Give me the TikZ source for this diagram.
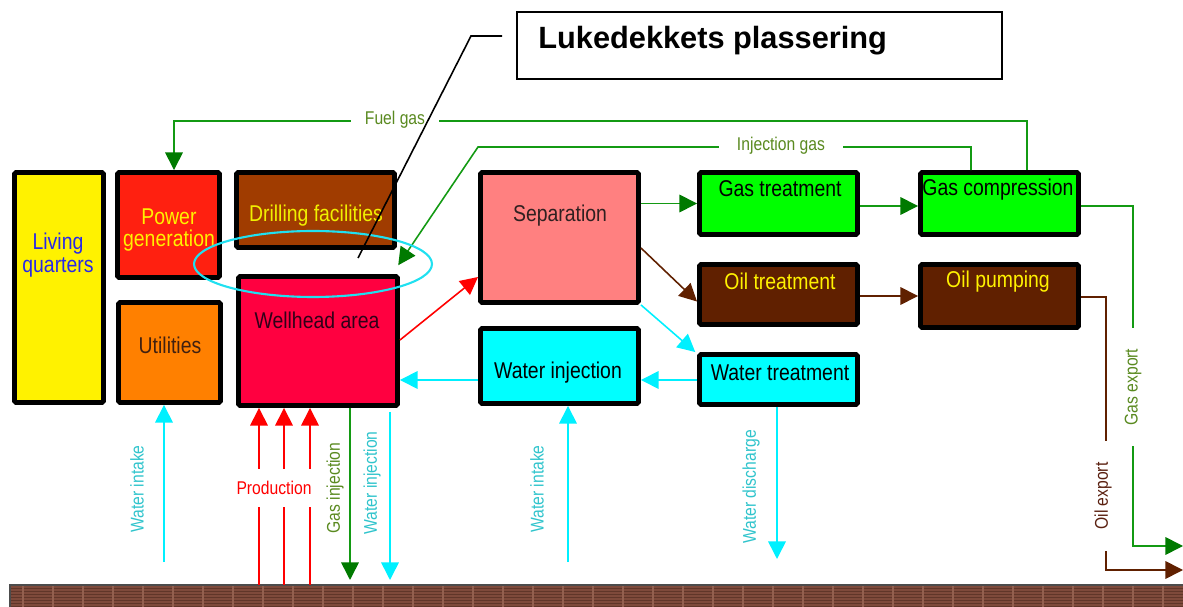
\documentclass[tikz,border=0pt]{standalone}
\usepackage{fontspec}
\setmainfont{Liberation Sans}[FakeStretch=0.85]
\newfontfamily\calloutfont{Liberation Sans}
\usetikzlibrary{arrows.meta,calc,shapes.geometric}
\definecolor{gline}{HTML}{139A13}
\definecolor{ghead}{HTML}{007A00}
\definecolor{cyanl}{HTML}{00F0FF}
\definecolor{brownl}{HTML}{602000}
\definecolor{groundc}{HTML}{7E4A3B}
\definecolor{groundd}{HTML}{603629}
\definecolor{groundl}{HTML}{93604F}
\definecolor{lblgreen}{HTML}{5A8A20}
\definecolor{lblcyan}{HTML}{30C4CC}
\definecolor{lblbrown}{HTML}{5A2010}
\definecolor{fpower}{HTML}{FF2010}
\definecolor{fdrill}{HTML}{A03C00}
\definecolor{futil}{HTML}{FF8000}
\definecolor{fwell}{HTML}{FF0040}
\definecolor{fsep}{HTML}{FF8080}
\definecolor{fgas}{HTML}{00FF00}
\definecolor{foil}{HTML}{602000}
\definecolor{fwater}{HTML}{00FFFF}
\definecolor{tliving}{HTML}{2828E8}
\definecolor{tdrill}{HTML}{F0F000}
\definecolor{tutil}{HTML}{402010}
\definecolor{twell}{HTML}{300018}
\definecolor{tsep}{HTML}{302020}
\definecolor{ellc}{HTML}{20E0F0}
\tikzset{
  x={(0.02cm,0)}, y={(0,-0.02cm)},
  pbox/.style={draw=black, line width=2.7pt, rounded corners=1pt, inner sep=0pt},
  btxt/.style={font=\fontsize{13}{15}\selectfont, inner sep=0pt, align=center},
  ltxt/.style={font=\fontsize{10.5}{12}\selectfont, inner sep=0pt},
  flow/.style={line width=0.9pt, -{Triangle[length=10pt,width=10pt]}},
  gflow/.style={line width=0.9pt, gline, -{Triangle[length=10pt,width=10pt,color=ghead]}},
}
\newcommand{\pbx}[6]{\node[pbox, fill=#6, minimum width={(#4-#2-4.8)*0.02cm}, minimum height={(#5-#3-4.8)*0.02cm}] (#1) at ({(#2+#4)/2},{(#3+#5)/2}) {};}
\begin{document}
\begin{tikzpicture}
\useasboundingbox (0,0) rectangle (1183,607);
% ground
\fill[groundc] (10,585) rectangle (1183,607);
\foreach \yy in {588,591,...,606} {\draw[groundd, line width=0.5pt] (10,\yy) -- (1183,\yy);}
\foreach \xx in {23,53,...,1183} {\draw[groundl, line width=0.6pt] (\xx,585) -- (\xx,607);}
\draw[black!70, line width=0.8pt] (10,607) -- (10,585) -- (1183,585);
% boxes
\pbx{living}{12}{170}{106}{405}{yellow}
\pbx{power}{115}{170}{222}{280}{fpower}
\pbx{drilling}{234}{170}{397}{250}{fdrill}
\pbx{utilities}{116}{300}{223}{405}{futil}
\pbx{wellhead}{236}{274}{400}{408}{fwell}
\pbx{separation}{478}{170}{641}{305}{fsep}
\pbx{gastreat}{697}{170}{860}{237}{fgas}
\pbx{oiltreat}{697}{262}{860}{327}{foil}
\pbx{waterinj}{478}{326}{641}{406}{fwater}
\pbx{watertreat}{697}{352}{860}{407}{fwater}
\pbx{gascomp}{918}{170}{1081}{237}{fgas}
\pbx{oilpump}{918}{262}{1081}{330}{foil}
% box texts
\node[btxt, text=tliving] (t-living) at (58,255) {Living\\[-2pt]quarters};
\node[btxt, text=yellow] (t-power) at (169,230) {Power\\[-2pt]generation};
\node[btxt, text=tdrill] (t-drilling) at (316,216) {Drilling facilities};
\node[btxt, text=tutil] (t-utilities) at (170,345) {Utilities};
\node[btxt, text=twell] (t-wellhead) at (317,320) {Wellhead area};
\node[btxt, text=tsep] (t-separation) at (560,216) {Separation};
\node[btxt, text=black] (t-gastreat) at (780,189) {Gas treatment};
\node[btxt, text=yellow] (t-oiltreat) at (780,281) {Oil treatment};
\node[btxt, text=black] (t-waterinj) at (558,373) {Water injection};
\node[btxt, text=black] (t-watertreat) at (780,373) {Water treatment};
\node[btxt, text=black] (t-gascomp) at (998,190) {Gas compression};
\node[btxt, text=yellow] (t-oilpump) at (998,282) {Oil pumping};
% fuel gas
\draw[gflow] (1027,0 |- gascomp.north) -- (1027,121) -- (174,121) -- (174,0 |- power.north);
\node[ltxt, text=lblgreen, fill=white, inner xsep=8pt, inner ysep=2pt] (l-fuel) at (395,120) {Fuel gas};
% injection gas
\draw[gflow] (971,0 |- gascomp.north) -- (971,147) -- (478,147) -- ([xshift=-1pt,yshift=5pt]wellhead.north east);
\node[ltxt, text=lblgreen, fill=white, inner xsep=10pt, inner ysep=2pt] (l-inj) at (781,146) {Injection gas};
% process flows
\draw[gflow] (separation.east |- gastreat.west) -- (gastreat.west);
\draw[gflow] (gastreat.east |- 0,206) -- (gascomp.west |- 0,206);
\draw[flow, brownl] (separation.east |- 0,248) -- ([yshift=-4pt]oiltreat.west);
\draw[flow, brownl] (oiltreat.east |- 0,296) -- (oilpump.west |- 0,296);
\draw[flow, cyanl] (separation.south east) -- ([xshift=-1pt]watertreat.north west);
\draw[flow, cyanl] (watertreat.west |- 0,380) -- (waterinj.east |- 0,380);
\draw[flow, cyanl] (waterinj.west |- 0,380) -- (wellhead.east |- 0,380);
\draw[flow, red] (wellhead.east |- 0,340) -- (separation.west |- 0,277);
% exports
\coordinate (gasexp) at (1183,546);
\coordinate (oilexp) at (1183,570);
\draw[gflow] (gascomp.east |- 0,206) -- (1133,206) -- (1133,546) -- (gasexp);
\node[ltxt, text=lblgreen, fill=white, rotate=90, inner xsep=12pt, inner ysep=2pt] (l-gasexp) at (1133,387) {Gas export};
\draw[flow, brownl] (oilpump.east |- 0,297) -- (1106,297) -- (1106,570) -- (oilexp);
\node[ltxt, text=lblbrown, fill=white, rotate=90, inner xsep=12pt, inner ysep=2pt] (l-oilexp) at (1103,496) {Oil export};
% bottom flows
\coordinate (wi1) at (164,562);
\draw[flow, cyanl] (wi1) -- (164,0 |- utilities.south);
\node[ltxt, text=lblcyan, rotate=90] (l-wi1) at (137,489) {Water intake};
\foreach \px [count=\i] in {259,284,310} {
  \coordinate (prod\i) at (\px,585);
  \draw[flow, red] (prod\i) -- (\px,0 |- wellhead.south);
}
\node[ltxt, text=red, fill=white, inner xsep=3pt, inner ysep=7pt] (l-prod) at (274,488) {Production};
\coordinate (gi) at (350,580);
\draw[gflow] (350,0 |- wellhead.south) -- (gi);
\node[ltxt, text=lblgreen, rotate=90] (l-gi) at (335,488) {Gas injection};
\coordinate (wj) at (390,580);
\draw[flow, cyanl] (390,412) -- (wj);
\node[ltxt, text=lblcyan, rotate=90] (l-wj) at (372,483) {Water injection};
\coordinate (wi2) at (568,562);
\draw[flow, cyanl] (wi2) -- (568,0 |- waterinj.south);
\node[ltxt, text=lblcyan, rotate=90] (l-wi2) at (537,489) {Water intake};
\coordinate (wd) at (777,559);
\draw[flow, cyanl] (777,0 |- watertreat.south) -- (wd);
\node[ltxt, text=lblcyan, rotate=90] (l-wd) at (751,487) {Water discharge};
% ellipse marking
\node[draw=ellc, line width=1.2pt, ellipse, minimum width=4.76cm, minimum height=1.32cm, inner sep=0pt] (hatch) at (313,264) {};
% callout
\node[draw=black, line width=0.8pt, minimum width={(1002-517)*0.02cm}, minimum height={(79-12)*0.02cm}, inner sep=0pt] (callout) at ({(517+1002)/2},{(12+79)/2}) {};
\node[font=\calloutfont\bfseries\fontsize{17.5}{20}\selectfont, anchor=west, inner sep=0pt] (t-callout) at (538,41) {Lukedekkets plassering};
\coordinate (ctip) at (358,258);
\draw[black, line width=0.9pt] ([xshift=-8pt]callout.west |- 0,36) -- (471,36) -- (ctip);
\end{tikzpicture}
\end{document}
